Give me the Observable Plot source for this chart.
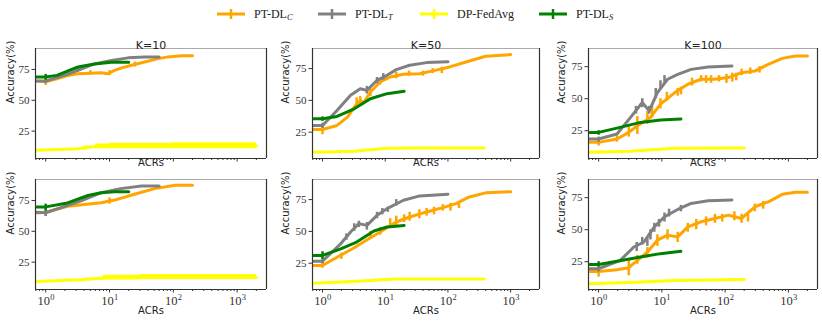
<!DOCTYPE html>
<html><head><meta charset="utf-8">
<script src="https://cdn.jsdelivr.net/npm/d3@7"></script>
<script src="https://cdn.jsdelivr.net/npm/@observablehq/plot@0.6"></script>
<style>
body{margin:0;background:#fff;width:822px;height:322px;position:relative;overflow:hidden;font-family:"DejaVu Sans",sans-serif}
.leg{position:absolute;top:5px;height:18px;display:flex;align-items:center;font-family:"Liberation Serif",serif;font-size:12px;color:#222;white-space:nowrap}
.leg svg{margin-right:9px}
.leg sub{font-size:8.5px;font-style:italic;vertical-align:-2px}
svg.panel{position:absolute}
</style></head><body>
<div id="root"></div>
<script>
// ---------------- data ----------------
const seriesNames = ["PT-DL_C", "PT-DL_T", "DP-FedAvg", "PT-DL_S"];
const seriesColors = ["orange", "gray", "yellow", "green"];
const panelTitles = ["K=10", "K=50", "K=100"];
const xTickValues = [1, 10, 100, 1000];
const xTickExponents = ["0", "1", "2", "3"];
const yTickValues = [25, 50, 75];

// K=10, row 1
const k10a_C = [[0.72,65.6],[1,65],[1.5,67.5],[2.2,70],[3.2,71.5],[5,72],[7.4,72.3],[9.3,71.5],[12,74.2],[16,76.5],[24.5,79],[35.5,81],[57.5,83.8],[83,85.2],[135,86.2],[200,86.2]];
const k10a_T = [[0.72,65.6],[1,65.6],[2.2,71],[3.5,75],[5.8,79.5],[10.7,82.2],[19.5,84.4],[35.5,85.2],[60,85.2]];
const k10a_Y = [[0.72,9.5],[3.2,10.8],[5.8,12.3],[24.5,13.2],[2000,13.2]];
const k10a_S = [[0.72,68.9],[1,68.9],[1.5,70.2],[3.2,77],[5.8,79.5],[10.7,80.9],[20,80.9]];
const k10a_Cerr = [[1,62,68.5],[2.2,68.5,72.5],[5,70.5,74],[10,70,74],[25,77,81]];
const k10a_Terr = [[1,63.5,67.5],[3.2,73,77]];
const k10a_Serr = [[1,66.5,71]];
const k10a_Yband = [[4,11,13],[6,10.8,14.6],[10,10.8,15.2],[100,10.8,15.6],[2000,10.8,15.6]];
// K=10, row 2
const k10b_C = [[0.72,64.8],[1,65.4],[2.2,70.3],[4,71.7],[7.4,73.1],[12,75.3],[24.5,80],[51,84.6],[107,87.4],[200,87.4]];
const k10b_T = [[0.72,65.4],[1,65],[3.5,74.5],[7.4,81.3],[15,84.6],[31.6,86.8],[60,86.8]];
const k10b_Y = [[0.72,9.3],[3.5,10.7],[10.7,12.6],[31.6,13.2],[2000,12.6]];
const k10b_S = [[0.72,69.8],[1,69.8],[2.2,73],[4.6,79],[7.4,81.3],[12,82.1],[20,82.1]];
const k10b_Cerr = [[1,62,68],[10,72,77]];
const k10b_Terr = [[1,62,67]];
const k10b_Serr = [[1,66.5,72]];
const k10b_Yband = [[4,10,12],[8,10.6,14.4],[30,11,15],[2000,10.6,14.6]];
// K=50, row 1
const k50a_C = [[0.72,27.1],[1,27.1],[1.7,30.3],[2.5,36.8],[3.2,44.7],[4,50],[4.5,48],[5.8,56.6],[8.3,64.5],[12,68.4],[19.5,70.5],[35.5,71],[57.5,73.2],[107,76.3],[219,81],[400,84.7],[1000,86]];
const k50a_T = [[0.72,30.3],[1,30.3],[1.7,42],[2.8,54],[4,59.2],[5.1,57.9],[7.4,65.8],[10.7,69.7],[15,74.2],[24.5,77.6],[45.7,79.7],[100,80.3]];
const k50a_Y = [[0.72,9.2],[3.2,10],[10.7,12.4],[35.5,12.6],[380,12.6]];
const k50a_S = [[0.72,35.5],[1,35.5],[1.7,37.4],[3.2,43.4],[5.8,51.3],[10.7,55.3],[20,57.1]];
const k50a_Cerr = [[1,23,31],[3.5,44,52],[4,47,53],[5.8,53,59],[8.3,62,67],[15,67,72],[24,69,73],[40,69,73],[57,71,75],[80,71,76]];
const k50a_Terr = [[1,28,32],[5.1,55,61],[7.4,63,68],[9.3,66,71]];
const k50a_Serr = [[1,33.5,37]];
// K=50, row 2
const k50b_C = [[0.72,23.2],[1,23.2],[1.7,29.7],[3.2,37.1],[5.8,45],[8.3,49.5],[15,57.4],[24.5,61.3],[45.7,65.3],[83,68.7],[135,71.8],[219,77.1],[400,80.3],[1000,81.1]];
const k50b_T = [[0.72,26.6],[1,26.6],[1.95,40.3],[2.8,49.5],[3.8,56.1],[5.1,54.7],[7.4,62.6],[10.7,67.9],[19.5,74.5],[35.5,77.9],[100,79.2]];
const k50b_Y = [[0.72,9.2],[3.5,10.8],[15,12.6],[380,12.6]];
const k50b_S = [[0.72,31.1],[1,31.1],[1.95,36.3],[3.5,41.6],[6.6,50.3],[10.7,53.4],[20,54.7]];
const k50b_Cerr = [[1,21,25.5],[2,28,33],[5.8,44,50],[8.3,47,53],[12,54,60],[15,54,62],[20,57,63],[24.5,58,65],[35,60,67],[45.7,62,68],[60,63,69],[83,66,71],[110,66,72],[150,68,73]];
const k50b_Terr = [[1,24.5,28.5],[2.4,43,48],[3.2,50,56],[3.8,53,58],[5.1,51,57],[7.4,60,65],[9,63,68],[11,65,69],[15,70,75]];
const k50b_Serr = [[1,28,34]];
// K=100, row 1
const k100a_C = [[0.72,15.9],[1,15.9],[1.95,18.5],[3,23.7],[4.1,28.9],[6.6,35.4],[9.5,45.7],[16,54.8],[25.7,61.3],[41.7,65.2],[67.6,65.2],[112,66.5],[182,70.3],[295,71.6],[480,76.8],[800,81.5],[1290,83.3],[2000,83.3]];
const k100a_T = [[0.72,18.5],[1,18.5],[1.95,22.4],[3.2,35.4],[4.9,47],[6.3,40.5],[8.5,54.8],[12.3,65.2],[17.8,69],[29,72.9],[53.7,74.7],[128,75.5]];
const k100a_Y = [[0.72,8.2],[3.2,9],[16,11.3],[200,11.5]];
const k100a_S = [[0.72,23.7],[1,23.7],[1.95,27],[4.6,31.5],[9.5,33.3],[20,34.1]];
const k100a_Cerr = [[1,13,19],[1.95,16,21],[3,20,28],[4.1,22,36],[5.9,30,40],[7,35,45],[9.5,42,50],[12,48,55],[17.8,52,58],[20,53,59],[30,60,66],[41.7,63,68],[50,62,68],[60,62,68],[80,63,68],[105,62,69],[130,63,70],[150,64,70],[182,68,73],[250,69,74],[350,70,75]];
const k100a_Terr = [[1,16,20],[3.9,38,44],[4.9,43,50],[6.3,38,44],[8,50,58],[9.5,58,64],[11,62,68]];
const k100a_Serr = [[1,21.5,25]];
// K=100, row 2
const k100b_C = [[0.72,17.4],[1,17.4],[1.95,18.7],[3,20.3],[4.1,26],[5.9,32.6],[8.5,41.8],[12.3,45.7],[17.8,44.4],[25.7,52.2],[41.7,56.2],[69,58.8],[112,61.4],[182,58.8],[295,67.9],[490,71.9],[800,77.6],[1290,79.2],[2000,79.2]];
const k100b_T = [[0.72,19.5],[1,19.5],[2.2,26],[3.6,36.5],[5.2,40.4],[7.6,52.2],[11,60.1],[17.8,65.8],[29,70.5],[53.7,72.6],[128,73.2]];
const k100b_Y = [[0.72,7.7],[3.8,9],[16,10.3],[200,11.1]];
const k100b_S = [[0.72,22.9],[1,22.9],[1.95,25.3],[4.6,28.7],[9.5,31.3],[20,33.1]];
const k100b_Cerr = [[1,13,21],[3,14,26],[4.1,23,30],[5.9,28,36],[8.5,37,46],[12.3,42,50],[17.8,40,48],[25.7,48,55],[35,50,58],[50,53,60],[69,55,62],[90,56,62],[140,57,64],[182,55,62],[230,56,62],[295,64,70],[400,66,72]];
const k100b_Terr = [[1,17,22],[4,33,40],[4.9,38,44],[5.9,37,43],[6.6,42,50],[7.6,48,55],[9,52,58],[11,56,63],[13,60,66],[20,64,69]];
const k100b_Serr = [[1,21,25]];

// ---------------- layout ----------------
const XDOM = [0.692, 2885];
const colL = [35, 312, 588], colR = [266, 539, 817];
const rowT = [48, 179], rowB = [158, 289];
const yDomains = [[2.8, 92], [4.3, 90.8], [3.3, 89.2]];
const minorTicks = [];
for (const d of [0.1, 1, 10, 100, 1000]) for (let m = 2; m <= 9; m++) { const v = d * m; if (v > XDOM[0] && v < XDOM[1]) minorTicks.push(v); }

const panels = [
  {r:0,c:0,C:k10a_C,T:k10a_T,Y:k10a_Y,S:k10a_S,Ce:k10a_Cerr,Te:k10a_Terr,Se:k10a_Serr,Yb:k10a_Yband},
  {r:0,c:1,C:k50a_C,T:k50a_T,Y:k50a_Y,S:k50a_S,Ce:k50a_Cerr,Te:k50a_Terr,Se:k50a_Serr,Yb:[]},
  {r:0,c:2,C:k100a_C,T:k100a_T,Y:k100a_Y,S:k100a_S,Ce:k100a_Cerr,Te:k100a_Terr,Se:k100a_Serr,Yb:[]},
  {r:1,c:0,C:k10b_C,T:k10b_T,Y:k10b_Y,S:k10b_S,Ce:k10b_Cerr,Te:k10b_Terr,Se:k10b_Serr,Yb:k10b_Yband},
  {r:1,c:1,C:k50b_C,T:k50b_T,Y:k50b_Y,S:k50b_S,Ce:k50b_Cerr,Te:k50b_Terr,Se:k50b_Serr,Yb:[]},
  {r:1,c:2,C:k100b_C,T:k100b_T,Y:k100b_Y,S:k100b_S,Ce:k100b_Cerr,Te:k100b_Terr,Se:k100b_Serr,Yb:[]}
];

const root = document.getElementById("root");
const ML = 48, MR = 8, MT = 24, MB = 34;
const SERIF = "Liberation Serif, serif", SANS = "DejaVu Sans, sans-serif";

function seriesMarks(line, err, color) {
  return [
    Plot.line(line, {x: d => d[0], y: d => d[1], stroke: color, strokeWidth: 3, strokeLinejoin: "round"}),
    Plot.ruleX(err, {x: d => d[0], y1: d => d[1], y2: d => d[2], stroke: color, strokeWidth: 2.5})
  ];
}

for (const p of panels) {
  const L = colL[p.c], R = colR[p.c], T = rowT[p.r], B = rowB[p.r];
  const ydom = yDomains[p.c];
  const bottomRow = p.r === 1;
  const marks = [
    ...seriesMarks(p.C, p.Ce, seriesColors[0]),
    ...seriesMarks(p.T, p.Te, seriesColors[1]),
    Plot.areaY(p.Yb, {x: d => d[0], y1: d => d[1], y2: d => d[2], fill: seriesColors[2], curve: "step-after"}),
    Plot.line(p.Y, {x: d => d[0], y: d => d[1], stroke: seriesColors[2], strokeWidth: 3}),
    ...seriesMarks(p.S, p.Se, seriesColors[3]),
    // frame
    Plot.ruleY([ydom[1]], {stroke: "#aaa", strokeWidth: 1.2}),
    Plot.ruleY([ydom[0]], {stroke: "#333", strokeWidth: 1.2}),
    Plot.ruleX(XDOM, {stroke: "#333", strokeWidth: 1.2}),
    // axes
    Plot.axisY(yTickValues, {tickSize: 3.5, tickPadding: 2.5, stroke: "#333", fill: "#333", fontFamily: SERIF, fontSize: 11, label: null}),
    Plot.axisX(xTickValues, {tickSize: 3.5, tickFormat: () => "", stroke: "#333", label: null}),
    Plot.axisX(minorTicks, {tickSize: 2, tickFormat: () => "", stroke: "#333", label: null}),
    // axis labels
    Plot.text(["ACRs"], {frameAnchor: "bottom", text: d => d, dy: bottomRow ? 24 : 7, fontFamily: SANS, fontSize: 10, fill: "#222"}),
    Plot.text(["Accuracy(%)"], {frameAnchor: "left", text: d => d, rotate: -90, dx: p.c === 0 ? -25 : -27, fontFamily: SANS, fontSize: 10, fill: "#222"})
  ];
  if (bottomRow) {
    marks.push(Plot.text(xTickValues, {x: d => d, text: () => "10", frameAnchor: "bottom", lineAnchor: "bottom", dx: -2, dy: 15, fontFamily: SERIF, fontSize: 12.5, fill: "#333"}));
    marks.push(Plot.text(xTickValues, {x: d => d, text: (d, i) => xTickExponents[i], frameAnchor: "bottom", lineAnchor: "bottom", textAnchor: "start", dx: 4.5, dy: 10, fontFamily: SERIF, fontSize: 8.5, fill: "#333"}));
  } else {
    marks.push(Plot.text([panelTitles[p.c]], {frameAnchor: "top", text: d => d, dy: -7, fontFamily: SANS, fontSize: 11, fill: "#222"}));
  }
  const chart = Plot.plot({
    width: (R - L) + ML + MR, height: (B - T) + MT + MB,
    marginLeft: ML, marginRight: MR, marginTop: MT, marginBottom: MB,
    x: {type: "log", domain: XDOM, axis: null},
    y: {domain: ydom, axis: null},
    style: {background: "transparent", overflow: "visible"},
    marks
  });
  chart.classList.add("panel");
  chart.style.position = "absolute";
  chart.style.left = (L - ML) + "px";
  chart.style.top = (T - MT) + "px";
  root.appendChild(chart);
}

// ---------------- legend ----------------
const legendX = [217, 318, 420, 539];
seriesNames.forEach((name, i) => {
  const div = document.createElement("div");
  div.className = "leg";
  div.style.left = legendX[i] + "px";
  const [base, sub] = name.split("_");
  div.innerHTML = `<svg width="28" height="12"><line x1="0" x2="28" y1="6" y2="6" stroke="${seriesColors[i]}" stroke-width="3"/><line x1="14" x2="14" y1="1" y2="11" stroke="${seriesColors[i]}" stroke-width="2.5"/></svg><span>${base}${sub ? `<sub>${sub}</sub>` : ""}</span>`;
  root.appendChild(div);
});
</script>
</body></html>
